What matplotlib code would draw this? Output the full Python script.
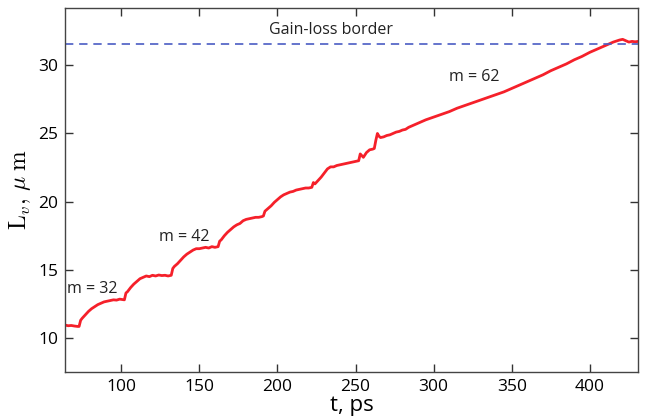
import matplotlib
matplotlib.use("Agg")
import matplotlib.pyplot as plt

t = [64, 66, 68, 70, 72, 73, 74, 75, 77, 79, 81, 83, 85, 87, 89, 91, 93, 95, 97, 99, 101, 102,
     103, 104, 106, 108, 110, 112, 114, 116, 118, 120, 122, 124, 126, 128, 130, 132,
     133, 134, 136, 138, 140, 142, 144, 146, 148, 150, 152, 154, 156, 158, 160, 162,
     163, 164, 166, 168, 170, 172, 174, 176, 178, 180, 182, 184, 186, 188, 190, 191,
     192, 194, 196, 198, 200, 202, 204, 206, 208, 210, 212, 214, 216, 218, 220, 222,
     223, 224, 226, 228, 230, 232, 234, 236, 238, 240, 242, 244, 246, 248, 250, 252,
     253, 255, 257, 259, 261, 262, 263, 264, 265, 266, 268, 270, 272, 274, 276, 278,
     280, 282, 284, 286, 288, 290, 295, 300, 305, 310, 315, 320, 325, 330, 335, 340,
     345, 350, 355, 360, 365, 370, 375, 380, 385, 390, 395, 400, 405, 410, 415, 419,
     421, 423, 425, 427, 429, 431]
L = [10.95, 10.9, 10.92, 10.88, 10.85, 10.85, 11.3, 11.45, 11.7, 11.95, 12.15, 12.3, 12.45, 12.55,
     12.65, 12.7, 12.75, 12.8, 12.78, 12.85, 12.82, 12.8,
     13.3, 13.4, 13.7, 13.95, 14.15, 14.35, 14.45, 14.55, 14.5, 14.6, 14.55, 14.62, 14.58, 14.6,
     14.55, 14.6,
     15.1, 15.25, 15.45, 15.7, 15.95, 16.15, 16.3, 16.45, 16.55, 16.55, 16.6, 16.65, 16.6, 16.7,
     16.65, 16.7,
     17.1, 17.2, 17.5, 17.75, 17.95, 18.15, 18.3, 18.4, 18.6, 18.7, 18.75, 18.8, 18.85, 18.85,
     18.9, 18.95,
     19.3, 19.5, 19.7, 19.95, 20.15, 20.35, 20.5, 20.6, 20.7, 20.75, 20.85, 20.9, 20.95, 21.0,
     21.0, 21.05,
     21.4, 21.3, 21.55, 21.8, 22.1, 22.4, 22.55, 22.55, 22.65, 22.7, 22.75, 22.8, 22.85, 22.9,
     22.95, 23.0,
     23.5, 23.25, 23.6, 23.8, 23.85, 23.9, 24.5, 25.0, 24.8, 24.7, 24.75, 24.85, 24.9, 25.0,
     25.1, 25.15,
     25.25, 25.3, 25.45, 25.55, 25.65, 25.75, 26.0, 26.2, 26.4, 26.6, 26.85, 27.05, 27.25, 27.45,
     27.65, 27.85,
     28.05, 28.3, 28.55, 28.8, 29.05, 29.3, 29.6, 29.85, 30.1, 30.4, 30.65, 30.95, 31.2, 31.45,
     31.7, 31.85,
     31.9, 31.8, 31.7, 31.75, 31.72, 31.75]

border = 31.55
xticks = [100, 150, 200, 250, 300, 350, 400]
yticks = [10, 15, 20, 25, 30]
annotations = [("m = 32", 65.5, 13.3), ("m = 42", 124, 17.1), ("m = 62", 310, 28.85)]

plt.rcParams['font.family'] = ['Open Sans', 'DejaVu Sans']
plt.rcParams['mathtext.fontset'] = 'cm'

fig = plt.figure(figsize=(6.47, 4.2), dpi=100)
ax = fig.add_axes([0.1005, 0.114, 0.886, 0.867])

ax.plot(t, L, color='#f5202a', lw=2.0)
ax.axhline(border, color='#4a5cc4', lw=1.2, ls=(0, (5, 3.5)))

for txt, x, y in annotations:
    ax.text(x, y, txt, fontsize=11.5, color='#222222')
ax.text(234, 32.3, "Gain-loss border", fontsize=11.5, color='#222222', ha='center')

ax.set_xlim(64, 431)
ax.set_ylim(7.5, 34.2)
ax.set_xticks(xticks)
ax.set_yticks(yticks)
ax.tick_params(direction='in', length=6, width=1, top=True, right=True,
               labelsize=12.5, colors='#333333', labelcolor='black', pad=5)
for s in ax.spines.values():
    s.set_color('#444444')
    s.set_linewidth(1.0)

ax.set_xlabel("t, ps", fontsize=16, labelpad=0)
ax.set_ylabel(r"$\mathrm{L}_{v},\,\mu\;\mathrm{m}$", fontsize=17, labelpad=4)

fig.savefig("out.png", dpi=100)
